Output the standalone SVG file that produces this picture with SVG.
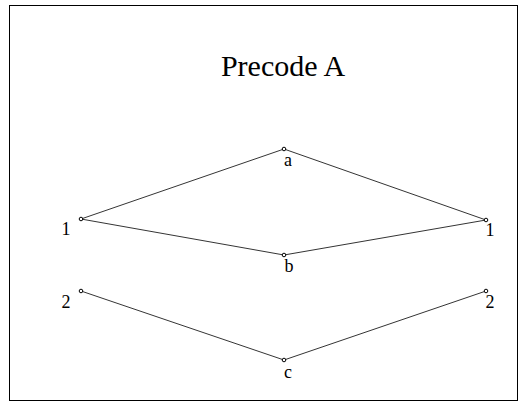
<svg xmlns="http://www.w3.org/2000/svg" width="527" height="402" viewBox="0 0 527 402">
<style>
.e{stroke:#000;stroke-width:0.8;fill:none}
.n{fill:#fff;stroke:#000;stroke-width:1}
.t{font-family:"Liberation Serif",serif;font-size:18px;fill:#000}
</style>
<rect x="0" y="0" width="527" height="402" fill="#fff"/>
<rect x="9.5" y="5.5" width="508" height="395" fill="none" stroke="#000" stroke-width="1"/>
<text x="283" y="76" text-anchor="middle" font-family="Liberation Serif, serif" font-size="30">Precode A</text>
<g id="connectors">
<line class="e" x1="81" y1="219" x2="284" y2="149"/>
<line class="e" x1="284" y1="149" x2="486" y2="220"/>
<line class="e" x1="81" y1="219" x2="284" y2="255"/>
<line class="e" x1="284" y1="255" x2="486" y2="220"/>
<line class="e" x1="81" y1="291" x2="284" y2="360"/>
<line class="e" x1="284" y1="360" x2="486" y2="291"/>
</g>
<g id="n1L"><circle class="n" cx="81" cy="219" r="1.8"/><text class="t" x="66" y="235" text-anchor="middle">1</text></g>
<g id="na"><circle class="n" cx="284" cy="149" r="1.8"/><text class="t" x="288" y="166" text-anchor="middle">a</text></g>
<g id="nb"><circle class="n" cx="284" cy="255" r="1.8"/><text class="t" x="289" y="272" text-anchor="middle">b</text></g>
<g id="n1R"><circle class="n" cx="486" cy="220" r="1.8"/><text class="t" x="490" y="236" text-anchor="middle">1</text></g>
<g id="n2L"><circle class="n" cx="81" cy="291" r="1.8"/><text class="t" x="66" y="308" text-anchor="middle">2</text></g>
<g id="nc"><circle class="n" cx="284" cy="360" r="1.8"/><text class="t" x="288" y="378" text-anchor="middle">c</text></g>
<g id="n2R"><circle class="n" cx="486" cy="291" r="1.8"/><text class="t" x="490" y="308" text-anchor="middle">2</text></g>
</svg>
